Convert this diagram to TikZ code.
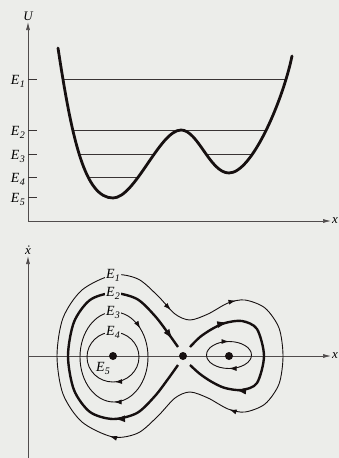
\documentclass[tikz,border=0pt]{standalone}
\usepackage{fontspec}
\setmainfont{Liberation Serif}
\usetikzlibrary{arrows.meta,decorations.markings}
\definecolor{paperGrey}{HTML}{ECEDEA}
\definecolor{inkDark}{HTML}{161010}
\newcommand{\En}[1]{\textit{E}\kern0.3pt\raisebox{-3pt}{\fontsize{10}{10}\selectfont\textit{#1}}}

\begin{document}
\begin{tikzpicture}[x=1pt,y=-1pt,
  tipat/.style={postaction={decorate,decoration={markings,
    mark=at position #1 with {\arrow{Latex[length=7.5pt,width=5pt]}}}}},
  bigtipat/.style={postaction={decorate,decoration={markings,
    mark=at position #1 with {\arrow{Latex[length=11pt,width=7pt]}}}}},
  orbit/.style={inkDark,line width=0.9pt},
  separatrix/.style={inkDark,line width=2.4pt},
  axis/.style={inkDark!75,line width=0.7pt,-{Latex[length=8pt,width=4pt]}},
  level/.style={inkDark!85,line width=0.55pt},
  elabel/.style={font=\fontsize{14}{14}\selectfont,fill=paperGrey,inner sep=1pt},
  axlabel/.style={font=\fontsize{13}{13}\selectfont\itshape,inner sep=1pt},
  fixpt/.style={circle,fill=inkDark,inner sep=0pt,minimum size=8pt}]
  \fill[paperGrey] (0,0) rectangle (339,458);
  \useasboundingbox (0,0) rectangle (339,458);

  % potential U(x)
  \coordinate (O1) at (28,221);
  \coordinate (Utip) at (28,22);
  \coordinate (X1tip) at (331,221);
  \draw[axis] (O1) -- (Utip);
  \draw[axis] (O1) -- (X1tip);
  \node[axlabel,above] (ulab) at (Utip) {U};
  \node[axlabel,right] (x1lab) at (X1tip) {x};

  \coordinate (w0) at (58,48);
  \coordinate (m1) at (113,198);
  \coordinate (hump) at (181,130);
  \coordinate (m2) at (229,173);
  \coordinate (w9) at (292,56);
  \begin{scope}
    \clip (w0) .. controls (72,140) and (85,198) .. (m1)
      .. controls (135,198) and (160,130) .. (hump)
      .. controls (198,130) and (210,173) .. (m2)
      .. controls (252,173) and (283,100) .. (w9) -- (292,0) -- (58,0) -- cycle;
    \foreach \y in {79,130,154,177}
      \draw[level] (40,\y) -- (320,\y);
  \end{scope}
  \foreach \n/\y in {1/79,2/130,3/154,4/177,5/197} {
    \draw[level] (28,\y) -- (37,\y);
    \node[font=\fontsize{14}{14}\selectfont,inner sep=0pt,anchor=base east] (tick\n) at (25,\y+5) {\En{\n}};
  }
  \draw[inkDark,line width=2.8pt,line cap=round] (w0) .. controls (72,140) and (85,198) .. (m1)
    .. controls (135,198) and (160,130) .. (hump)
    .. controls (198,130) and (210,173) .. (m2)
    .. controls (252,173) and (283,100) .. (w9);

  % phase plane
  \coordinate (O2) at (28,458);
  \coordinate (Vtip) at (28,256);
  \coordinate (X0) at (28,356);
  \coordinate (X2tip) at (331,356);
  \draw[axis] (O2) -- (Vtip);
  \draw[axis] (X0) -- (X2tip);
  \node[axlabel,above] (vlab) at (Vtip) {\.{x}};
  \node[axlabel,right] (x2lab) at (X2tip) {x};

  \draw[orbit,tipat=0.068,tipat=0.176,tipat=0.437,tipat=0.646] plot[smooth cycle] coordinates
    {(113,275) (138,279) (158,296) (175,314) (190,320) (208,314) (228,303) (245,300)
     (265,308) (279,328) (283,356) (279,384) (265,404) (245,412) (228,409) (208,398)
     (190,392) (175,398) (158,416) (138,433) (113,437) (82,422) (63,394) (57,356)
     (63,318) (82,290)};
  \draw[separatrix,bigtipat=0.25,bigtipat=0.975] plot[smooth] coordinates
    {(178,365) (168,379) (155,396) (137,413) (113,419) (90,412) (74,390) (68,356)
     (74,322) (90,300) (113,293) (137,299) (155,316) (168,333) (178,347)};
  \draw[separatrix,bigtipat=0.22,bigtipat=0.75] plot[smooth] coordinates
    {(190,347) (200,337) (212,329) (225,323) (242,321) (257,329) (264,356)
     (257,383) (242,390) (225,388) (212,382) (200,374) (190,365)};
  \draw[orbit,tipat=0.25,tipat=0.88] (114,357) ellipse [x radius=34, y radius=45];
  \draw[orbit,tipat=0.24] (113,357) ellipse [x radius=26, y radius=25];
  \draw[orbit,tipat=0.25,tipat=0.75] (229,355) ellipse [x radius=22.5, y radius=13.5];

  \node[elabel] (lab1) at (113,275) {\En{1}};
  \node[elabel] (lab2) at (113,293) {\En{2}};
  \node[elabel] (lab3) at (113,312) {\En{3}};
  \node[elabel] (lab4) at (113,332) {\En{4}};
  \node[elabel,fill=none] (lab5) at (103,368) {\En{5}};

  \node[fixpt] (lc) at (113,356) {};
  \node[fixpt] (sd) at (183,356) {};
  \node[fixpt] (rc) at (229,356) {};
\end{tikzpicture}
\end{document}
